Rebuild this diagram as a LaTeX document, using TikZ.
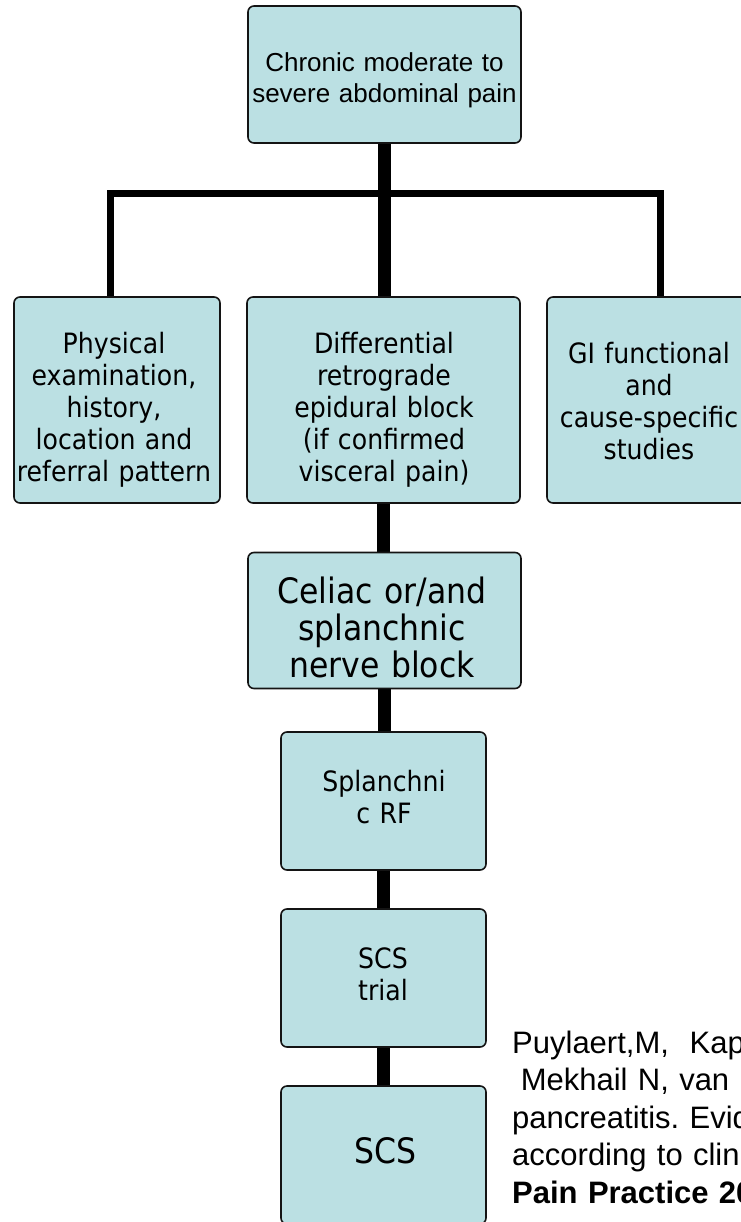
\documentclass[tikz,border=0pt]{standalone}
\usepackage{fontspec}
\usetikzlibrary{backgrounds}
\setmainfont{Liberation Sans}
\newfontfamily\boxfont[FakeStretch=0.9]{DejaVu Sans}
\newfontfamily\arialfont{Liberation Sans}
\definecolor{boxfill}{RGB}{187,224,227}
\definecolor{boxline}{RGB}{20,20,20}
\begin{document}
\frenchspacing
\begin{tikzpicture}[x=1pt,y=-1pt,
  box/.style={draw=boxline, line width=1.6pt, fill=boxfill, rounded corners=6pt,
    inner sep=0pt, outer sep=0pt},
  trunk/.style={line width=13pt, line cap=butt},
  branch/.style={line width=7pt, line cap=butt, line join=miter},
  txt/.style={anchor=base, align=center, inner sep=0pt, text width=320pt},
  titlefont/.style={font=\arialfont\fontsize{26pt}{31pt}\selectfont},
  smallfont/.style={font=\boxfont\fontsize{28pt}{32pt}\selectfont},
  largefont/.style={font=\boxfont\fontsize{35pt}{37pt}\selectfont},
]
\useasboundingbox (0,0) rectangle (740,1222);

% boxes
\node[box, minimum width=273pt, minimum height=137pt] (top)    at (384.5,74.5) {};
\node[box, minimum width=206pt, minimum height=206pt] (phys)   at (117,400) {};
\node[box, minimum width=273pt, minimum height=206pt] (diff)   at (383.5,400) {};
\node[box, minimum width=204pt, minimum height=206pt] (gi)     at (649,400) {};
\node[box, minimum width=273pt, minimum height=136pt] (celiac) at (384.5,620.5) {};
\node[box, minimum width=205pt, minimum height=138pt] (rf)     at (383.5,801) {};
\node[box, minimum width=205pt, minimum height=138pt] (trial)  at (383.5,978) {};
\node[box, minimum width=205pt, minimum height=138pt] (scs)    at (383.5,1155) {};

% box labels (placed by their first baseline)
\node[txt, titlefont] (toptxt) at (384.5,72) {Chronic moderate to\\severe abdominal pain};
\node[txt, smallfont] (phystxt) at (114,353)
  {Physical\\examination,\\history,\\location and\\referral pattern};
\node[txt, smallfont] (difftxt) at (384,353)
  {Differential\\retrograde\\epidural block\\(if confirmed\\visceral pain)};
\node[txt, smallfont] (gitxt) at (649,363)
  {GI functional\\and\\cause-specific\\studies};
\node[txt, largefont] (celtxt) at (382,603) {Celiac or/and\\splanchnic\\nerve block};
\node[txt, smallfont] (rftxt) at (384,791) {Splanchni\\c RF};
\node[txt, smallfont] (trialtxt) at (383,968) {SCS\\trial};
\node[txt, largefont] (scstxt) at (385,1163) {SCS};

% reference
\node[anchor=base west, align=left, inner sep=0pt, text width=420pt,
      font=\arialfont\fontsize{31pt}{37.5pt}\selectfont] (cite) at (512,1053)
  {Puylaert,M,\ \ Kap\\
   \hspace*{8.6pt}Mekhail N, van\\
   pancreatitis. Evid\\
   according to clin\\
   \textbf{Pain Practice 20}};

% connectors behind the boxes
\begin{scope}[on background layer]
  \fill[white] (0,0) rectangle (740,1222);
  \coordinate (bar) at (385,194);
  \draw[trunk] (top.south) -- (top.south |- diff.north);
  \draw[trunk] (diff.south) -- (diff.south |- celiac.north);
  \draw[trunk] (celiac.south) -- (celiac.south |- rf.north);
  \draw[trunk] (rf.south) -- (rf.south |- trial.north);
  \draw[trunk] (trial.south) -- (trial.south |- scs.north);
  \draw[branch] ([xshift=-7pt]phys.north) |- (bar) -| ([xshift=11pt]gi.north);
\end{scope}
\end{tikzpicture}
\end{document}
